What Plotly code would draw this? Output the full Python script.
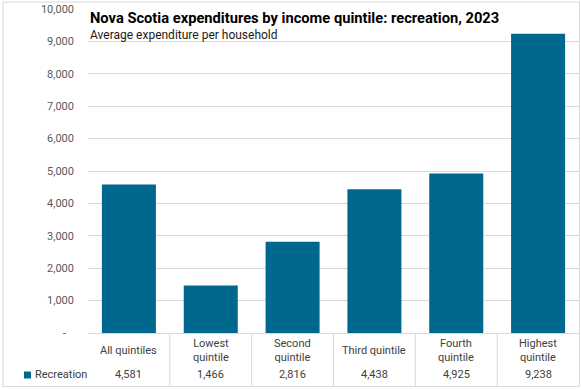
import plotly.graph_objects as go

# ---- data ----
categories = ["All quintiles", "Lowest quintile", "Second quintile",
              "Third quintile", "Fourth quintile", "Highest quintile"]
table_labels = ["All quintiles", "Lowest<br>quintile", "Second<br>quintile",
                "Third quintile", "Fourth<br>quintile", "Highest<br>quintile"]
series_name = "Recreation"
values = [4581, 1466, 2816, 4438, 4925, 9238]
y_ticks = [0, 1000, 2000, 3000, 4000, 5000, 6000, 7000, 8000, 9000, 10000]
y_ticktext = ["-\u00a0\u00a0\u00a0"] + [f"{v:,}" for v in y_ticks[1:]]

title = "Nova Scotia expenditures by income quintile: recreation, 2023"
subtitle = "Average expenditure per household"

# ---- layout geometry (pixels) ----
WIDTH, HEIGHT = 581, 389
L, R, T, B = 88, 579, 9, 333
PW, PH = R - L, B - T
BAR = "#00678f"
GRID = "#d9d9d9"
FONT = "Roboto"


def px(x):
    return (x - L) / PW


def py(y):
    return (B - y) / PH


fig = go.Figure()
fig.add_trace(go.Bar(x=list(range(len(categories))), y=values, name=series_name,
                     marker=dict(color=BAR, line=dict(width=0)),
                     hoverinfo="x+y"))

annotations = []
# title / subtitle
annotations.append(dict(text=f"<b>{title}</b>", xref="paper", yref="paper",
                        x=px(88), y=py(18), xanchor="left", yanchor="middle",
                        showarrow=False, font=dict(family=FONT, size=14.7, color="#000000")))
annotations.append(dict(text=subtitle, xref="paper", yref="paper",
                        x=px(88), y=py(35), xanchor="left", yanchor="middle",
                        showarrow=False, font=dict(family=FONT, size=12, color="#1a1a1a")))
# data table
for i, (lab, v) in enumerate(zip(table_labels, values)):
    annotations.append(dict(text=lab, xref="x", yref="paper", x=i, y=py(350),
                            xanchor="center", yanchor="middle", showarrow=False,
                            font=dict(family=FONT, size=11, color="#404040")))
    annotations.append(dict(text=f"{v:,}", xref="x", yref="paper", x=i, y=py(375),
                            xanchor="center", yanchor="middle", showarrow=False,
                            font=dict(family=FONT, size=11, color="#404040")))
annotations.append(dict(text=series_name, xref="paper", yref="paper", x=px(33), y=py(375),
                        xanchor="left", yanchor="middle", showarrow=False,
                        font=dict(family=FONT, size=11, color="#404040")))

shapes = []
# outer chart border
shapes.append(dict(type="rect", xref="paper", yref="paper", x0=px(3), x1=px(579.5),
                   y0=py(2), y1=py(386.5), line=dict(color=GRID, width=1), layer="below"))
# table vertical lines
for k in range(len(categories) - 1):
    shapes.append(dict(type="line", xref="x", yref="paper", x0=k + 0.5, x1=k + 0.5,
                       y0=0, y1=py(386.5), line=dict(color=GRID, width=1)))
# legend key
shapes.append(dict(type="rect", xref="paper", yref="paper", x0=px(24), x1=px(31),
                   y0=py(371.5), y1=py(378.5), fillcolor=BAR, line=dict(width=0)))

fig.update_layout(
    width=WIDTH, height=HEIGHT,
    margin=dict(l=L, r=WIDTH - R, t=T, b=HEIGHT - B, pad=0),
    paper_bgcolor="white", plot_bgcolor="white",
    showlegend=False, bargap=0.34,
    font=dict(family=FONT, size=11, color="#595959"),
    annotations=annotations, shapes=shapes,
    xaxis=dict(range=[-0.5, len(categories) - 0.5], showticklabels=False,
               showgrid=False, zeroline=False, showline=True, linecolor=GRID,
               linewidth=1, ticks="", fixedrange=True),
    yaxis=dict(range=[0, 10000], tickvals=y_ticks, ticktext=y_ticktext,
               showgrid=True, gridcolor=GRID, gridwidth=1, zeroline=False,
               showline=False, ticks="", ticklabelstandoff=13,
               tickfont=dict(family=FONT, size=11, color="#595959"), fixedrange=True),
)

fig.write_html("out.html", config={"displayModeBar": False},
               post_script="document.body.style.margin='0';document.body.style.overflow='hidden';")
